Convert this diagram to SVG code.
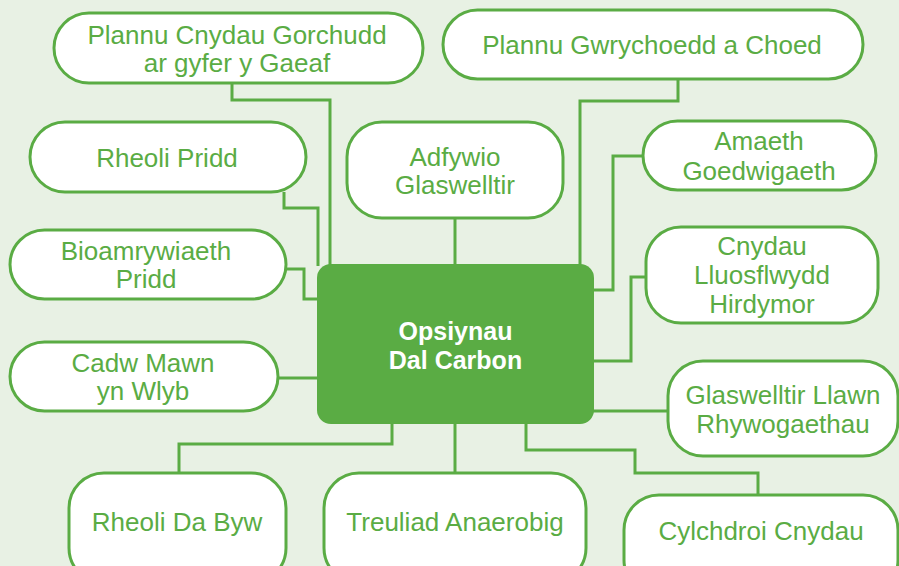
<svg xmlns="http://www.w3.org/2000/svg" width="899" height="566" viewBox="0 0 899 566">
<style>
.bg{fill:#e8f1e4}
.n rect{fill:#ffffff;stroke:#5aac44;stroke-width:3}
.n text{fill:#5aac44;font-family:"Liberation Sans",Arial,sans-serif;font-size:26px;text-anchor:middle}
.c rect{fill:#5aac44}
.c text{fill:#ffffff;font-family:"Liberation Sans",Arial,sans-serif;font-size:25px;font-weight:bold;text-anchor:middle}
.e path{fill:none;stroke:#5aac44;stroke-width:3}
</style>
<rect class="bg" x="0" y="0" width="899" height="566"/>
<g class="e" id="connectors">
<path d="M232,83 V100 H330 V266"/>
<path d="M284,192 V208 H318 V266"/>
<path d="M286,269 H304 V299 H319"/>
<path d="M455,218 V266"/>
<path d="M678,79 V101 H580 V266"/>
<path d="M643,156 H613 V290 H592"/>
<path d="M646,277 H631 V361 H592"/>
<path d="M592,411 H668"/>
<path d="M278,378 H319"/>
<path d="M392,422 V444 H179 V473"/>
<path d="M455,422 V473"/>
<path d="M526,422 V450 H635 V473 H758 V495"/>
</g>
<g id="center" class="c">
<rect x="317" y="264" width="277" height="160" rx="14"/>
<text x="455.5" y="340">Opsiynau</text>
<text x="455.5" y="369">Dal Carbon</text>
</g>
<g id="n1" class="n">
<rect x="54" y="13" width="369" height="70" rx="35"/>
<text x="237" y="44">Plannu Cnydau Gorchudd</text>
<text x="237" y="72">ar gyfer y Gaeaf</text>
</g>
<g id="n2" class="n">
<rect x="443" y="10" width="420" height="69" rx="34.5"/>
<text x="652" y="54">Plannu Gwrychoedd a Choed</text>
</g>
<g id="n3" class="n">
<rect x="30" y="122" width="276" height="70" rx="35"/>
<text x="167" y="167">Rheoli Pridd</text>
</g>
<g id="n4" class="n">
<rect x="347" y="122" width="216" height="96" rx="35"/>
<text x="455" y="166">Adfywio</text>
<text x="455" y="194">Glaswelltir</text>
</g>
<g id="n5" class="n">
<rect x="643" y="121" width="233" height="69" rx="34.5"/>
<text x="759" y="150">Amaeth</text>
<text x="759" y="180">Goedwigaeth</text>
</g>
<g id="n6" class="n">
<rect x="10" y="230" width="276" height="69" rx="34.5"/>
<text x="146" y="260">Bioamrywiaeth</text>
<text x="146" y="288">Pridd</text>
</g>
<g id="n7" class="n">
<rect x="646" y="227" width="232" height="96" rx="35"/>
<text x="762" y="255">Cnydau</text>
<text x="762" y="284">Lluosflwydd</text>
<text x="762" y="313">Hirdymor</text>
</g>
<g id="n8" class="n">
<rect x="10" y="342" width="268" height="69" rx="34.5"/>
<text x="143" y="372">Cadw Mawn</text>
<text x="143" y="400">yn Wlyb</text>
</g>
<g id="n9" class="n">
<rect x="668" y="361" width="230" height="95" rx="35"/>
<text x="783" y="404">Glaswelltir Llawn</text>
<text x="783" y="433">Rhywogaethau</text>
</g>
<g id="n10" class="n">
<rect x="69" y="473" width="217" height="110" rx="35"/>
<text x="177" y="531">Rheoli Da Byw</text>
</g>
<g id="n11" class="n">
<rect x="324" y="473" width="262" height="110" rx="35"/>
<text x="455" y="531">Treuliad Anaerobig</text>
</g>
<g id="n12" class="n">
<rect x="624" y="495" width="274" height="100" rx="35"/>
<text x="761" y="540">Cylchdroi Cnydau</text>
</g>
</svg>
